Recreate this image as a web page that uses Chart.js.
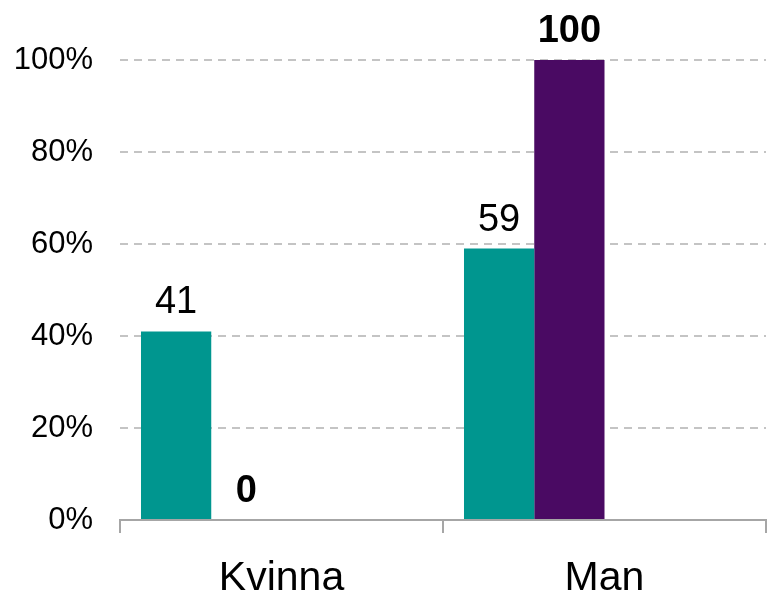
<!DOCTYPE html>
<html>
<head>
<meta charset="utf-8">
<script src="https://cdn.jsdelivr.net/npm/chart.js@4/dist/chart.umd.min.js"></script>
<style>
  html, body { margin: 0; padding: 0; background: #fff; }
  #wrap { width: 767px; height: 590px; position: relative; }
</style>
</head>
<body>
<div id="wrap"><canvas id="chart"></canvas></div>
<script>
// --- chart data ---
const categories = ['Kvinna', 'Man'];
const seriesA = [41, 59];   // teal
const seriesB = [0, 100];   // purple
const yTicks = [0, 20, 40, 60, 80, 100];

const FONT = '"Liberation Sans", Arial, sans-serif';

// --- value labels above bars ---
const valueLabels = {
  id: 'valueLabels',
  afterDatasetsDraw(chart) {
    const ctx = chart.ctx;
    ctx.save();
    ctx.fillStyle = '#000';
    ctx.textAlign = 'center';
    ctx.textBaseline = 'alphabetic';
    [0, 1].forEach(di => {
      const meta = chart.getDatasetMeta(di);
      ctx.font = (di === 1 ? 'bold ' : '') + '38px ' + FONT;
      meta.data.forEach((bar, i) => {
        const v = chart.data.datasets[di].data[i];
        if (v === null || v === undefined) return;
        ctx.fillText(String(v), bar.x, bar.y - 18);
      });
    });
    ctx.restore();
  }
};

new Chart(document.getElementById('chart').getContext('2d'), {
  type: 'bar',
  data: {
    labels: categories,
    datasets: [
      { data: seriesA, backgroundColor: '#00968F' },
      { data: seriesB, backgroundColor: '#4A0A63' },
      // empty slots in each group, as in the original layout
      { data: [null, null] },
      { data: [null, null] }
    ]
  },
  options: {
    responsive: true,
    maintainAspectRatio: false,
    animation: false,
    events: [],
    categoryPercentage: 0.87,
    barPercentage: 1,
    layout: { padding: { top: 60, right: 1, left: 0, bottom: 0 } },
    plugins: {
      legend: { display: false },
      tooltip: { enabled: false }
    },
    scales: {
      x: {
        afterFit(scale) { scale.height = 70; },
        border: { display: true, color: '#a6a6a6', width: 2 },
        grid: {
          offset: true,
          drawOnChartArea: false,
          drawTicks: true,
          tickLength: 13,
          color: '#a6a6a6',
          lineWidth: 2
        },
        ticks: {
          color: '#000',
          padding: 21,
          font: { family: FONT, size: 41 }
        }
      },
      y: {
        min: 0,
        max: 100,
        afterFit(scale) { scale.width = 120; },
        afterBuildTicks(scale) { scale.ticks = yTicks.map(v => ({ value: v })); },
        border: { display: false, dash: [8, 6] },
        grid: {
          drawTicks: false,
          color: ctx => ctx.tick && ctx.tick.value === 0 ? 'rgba(0,0,0,0)' : '#c4c4c4',
          lineWidth: 2
        },
        ticks: {
          color: '#000',
          padding: 27,
          font: { family: FONT, size: 31 },
          callback: v => v + '%'
        }
      }
    }
  },
  plugins: [valueLabels]
});
</script>
</body>
</html>
